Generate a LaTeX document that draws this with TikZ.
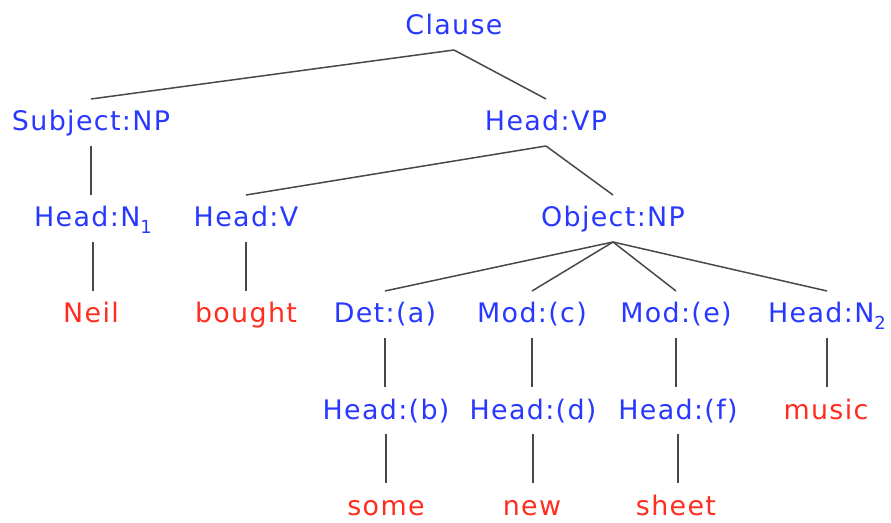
\documentclass[tikz,border=0pt]{standalone}
\usepackage{fontspec}
\newfontfamily\labfont{DejaVu Sans}[LetterSpace=5]
\usetikzlibrary{calc}
\definecolor{lblue}{RGB}{40,56,255}
\definecolor{lred}{RGB}{255,45,32}
\definecolor{edgegray}{RGB}{72,72,72}
\newcommand{\sbs}[1]{\raisebox{-0.25em}{\fontsize{18}{18}\selectfont #1}}
\begin{document}
\begin{tikzpicture}[x=1bp,y=-1bp,
  lab/.style={inner sep=0pt,anchor=base,font=\labfont\fontsize{27}{30}\selectfont},
  cat/.style={lab,text=lblue},
  word/.style={lab,text=lred},
  edge/.style={draw=edgegray,line width=1.5bp}]
\useasboundingbox (0,0) rectangle (891,523);
% row 1
\node[cat] (clause) at (454,35) {Clause};
% row 2
\node[cat] (subj) at (91,131) {Subject:NP};
\node[cat] (hvp) at (546,131) {Head:VP};
% row 3
\node[cat] (hn1) at (93,227) {Head:N\sbs{1}};
\node[cat] (hv) at (246,227) {Head:V};
\node[cat] (obj) at (613,227) {Object:NP};
% row 4
\node[word] (neil) at (91,323) {Neil};
\node[word] (bought) at (246,323) {bought};
\node[cat] (det) at (385,323) {Det:(a)};
\node[cat] (modc) at (532,323) {Mod:(c)};
\node[cat] (mode) at (676,323) {Mod:(e)};
\node[cat] (hn2) at (827,323) {Head:N\sbs{2}};
% row 5
\node[cat] (hb) at (386,419) {Head:(b)};
\node[cat] (hd) at (533,419) {Head:(d)};
\node[cat] (hf) at (678,419) {Head:(f)};
\node[word] (music) at (826,419) {music};
% row 6
\node[word] (some) at (386,515) {some};
\node[word] (new) at (532,515) {new};
\node[word] (sheet) at (676,515) {sheet};
% fan connectors: each ends above the child's centre
\foreach \p/\c in {clause/subj, clause/hvp, hvp/hv, hvp/obj,
    obj/det, obj/modc, obj/mode, obj/hn2}{
  \draw[edge] ($(\p.base)+(0,15)$) -- ($(\c.base)+(0,-32)$);
}
% vertical connectors: straight down from the parent's centre
\foreach \p/\c in {subj/hn1, hn1/neil, hv/bought,
    det/hb, modc/hd, mode/hf, hn2/music,
    hb/some, hd/new, hf/sheet}{
  \draw[edge] ($(\p.base)+(0,15)$) -- ($(\p.base |- \c.base)+(0,-32)$);
}
\end{tikzpicture}
\end{document}
